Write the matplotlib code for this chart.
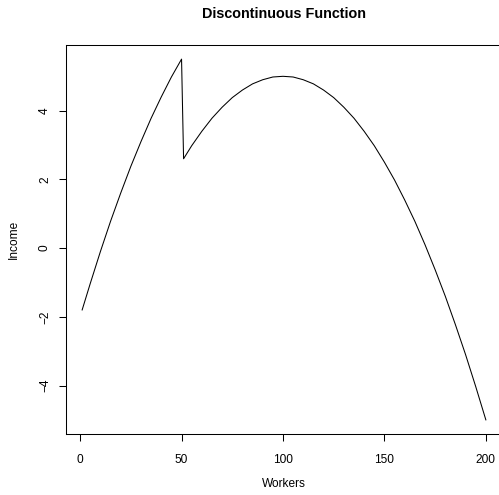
import matplotlib
matplotlib.use("Agg")
import matplotlib.pyplot as plt

workers_a = [1, 5, 10, 15, 20, 25, 30, 35, 40, 45, 50]
income_a = [-1.80, -1.03, -0.10, 0.78, 1.60, 2.38, 3.10, 3.78, 4.40, 4.98, 5.50]
workers_b = [51, 55, 60, 65, 70, 75, 80, 85, 90, 95, 100,
             105, 110, 115, 120, 125, 130, 135, 140, 145, 150,
             155, 160, 165, 170, 175, 180, 185, 190, 195, 200]
income_b = [2.60, 2.98, 3.40, 3.78, 4.10, 4.38, 4.60, 4.78, 4.90, 4.98, 5.00,
            4.98, 4.90, 4.78, 4.60, 4.38, 4.10, 3.78, 3.40, 2.98, 2.50,
            1.98, 1.40, 0.78, 0.10, -0.63, -1.40, -2.23, -3.10, -4.03, -5.00]
xticks = [0, 50, 100, 150, 200]
yticks = [-4, -2, 0, 2, 4]

plt.rcParams["font.family"] = ["Liberation Sans", "DejaVu Sans"]

W, H = 499, 495
fig = plt.figure(figsize=(W / 100, H / 100), dpi=100)
# plot region in pixels: left 66, right 502 (runs past the crop), top 44.7, bottom 434.3
ax = fig.add_axes([66 / W, (H - 434.3) / H, (502 - 66) / W, (434.3 - 44.7) / H])

x = workers_a + workers_b
y = income_a + income_b
ax.plot(x, y, color="black", lw=0.75)

# R style 4% padding
xr = max(x) - min(x)
yr = max(y) - min(y)
ax.set_xlim(min(x) - 0.04 * xr, max(x) + 0.04 * xr)
ax.set_ylim(min(y) - 0.04 * yr, max(y) + 0.04 * yr)

ax.set_xticks(xticks)
ax.set_yticks(yticks)
ax.set_yticklabels([f"\u2212{-v}" if v < 0 else str(v) for v in yticks])
ax.tick_params(axis="both", length=5.3, width=0.75, labelsize=8.6, color="black")
ax.tick_params(axis="x", pad=9)
ax.tick_params(axis="y", labelrotation=90, pad=5.5)
for lab in ax.get_yticklabels():
    lab.set_va("center")
for s in ax.spines.values():
    s.set_linewidth(0.75)
# the box's right side falls outside the cropped picture
ax.spines["right"].set_visible(False)

fig.text(284 / W, (H - 14.3) / H, "Discontinuous Function", ha="center",
         va="center", fontsize=10.4, fontweight="bold")
fig.text(284 / W, (H - 484) / H, "Workers", ha="center", va="center",
         fontsize=8.6)
fig.text(14 / W, (H - 239.5) / H, "Income", ha="center", va="center",
         fontsize=8.6, rotation=90)

fig.savefig("out.png", dpi=100)
